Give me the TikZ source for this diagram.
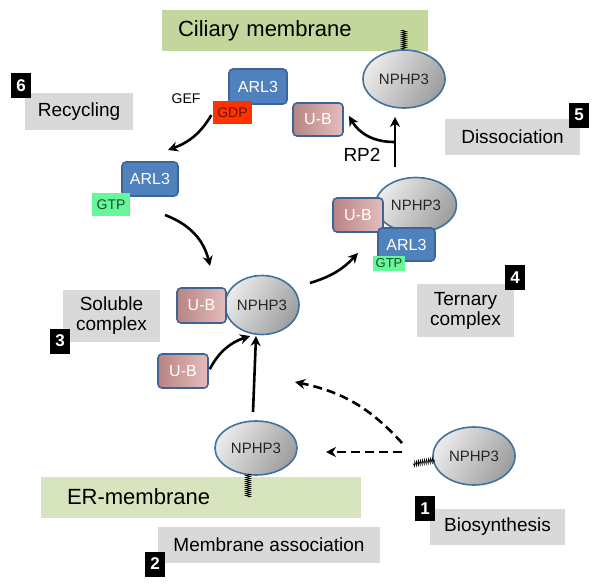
\documentclass[tikz,border=0pt]{standalone}
\usepackage{fontspec}
\setmainfont{Liberation Sans}
\usetikzlibrary{shapes.geometric, arrows.meta, decorations.pathmorphing}
\definecolor{ciliagreen}{HTML}{C3D69B}
\definecolor{ergreen}{HTML}{D7E4BD}
\definecolor{stepgrey}{HTML}{D9D9D9}
\definecolor{arlblue}{HTML}{4F81BD}
\definecolor{boxedge}{HTML}{3C6496}
\definecolor{ubdark}{HTML}{B88482}
\definecolor{ublight}{HTML}{E4BDBC}
\definecolor{gdpred}{HTML}{FF3300}
\definecolor{gdptext}{HTML}{6E1400}
\definecolor{gtpgreen}{HTML}{66F79B}
\definecolor{gtptext}{HTML}{1E4A2C}
\definecolor{nphpedge}{HTML}{41719C}
\newcommand{\fsz}[1]{\fontsize{#1}{#1}\selectfont}

\begin{document}
\begin{tikzpicture}[x=1pt, y=-1pt,
    membrane/.style={fill=#1, minimum height=41pt, inner ysep=0pt, align=left, font=\fsz{22}},
    stepbox/.style={fill=stepgrey, inner sep=0pt, align=center, font=\fontsize{19}{20}\selectfont},
    numbox/.style={fill=black, text=white, inner sep=0pt, minimum width=20pt, minimum height=25pt, font=\fsz{17}\bfseries},
    nphp/.style={ellipse, draw=nphpedge, line width=1.6pt, left color=black!8, right color=black!38, shading angle=60, inner sep=0pt, text=black!85, font=\fsz{15}},
    prot/.style={rectangle, rounded corners=4pt, draw=boxedge, line width=1.6pt, inner sep=0pt, text=white, font=\fsz{16}},
    arl/.style={prot, fill=arlblue, minimum width=57pt, minimum height=34pt},
    ub/.style={prot, left color=ubdark, right color=ublight, minimum width=49pt, minimum height=34pt},
    nucl/.style={fill=#1, inner sep=0pt, minimum width=38pt, minimum height=23pt, font=\fsz{14}},
    anchorlipid/.style={decorate, decoration={zigzag, segment length=2pt, amplitude=2.5pt}, line width=0.6pt},
    arr/.style={line width=2.6pt, -{Stealth[length=10pt, width=10pt]}},
    darr/.style={arr, dash pattern=on 9pt off 5pt},
]
\useasboundingbox (0,0) rectangle (601,586);

% membranes
\node[membrane=ciliagreen, inner xsep=16pt, text width=234pt] (cilia) at (295,30.5) {Ciliary membrane};
\node[membrane=ergreen, inner xsep=26pt, text width=268pt] (er) at (201,497) {ER-membrane};

% step labels
\node[stepbox, minimum width=108pt, minimum height=37pt] (recyc) at (79,111.5) {Recycling};
\node[stepbox, minimum width=135pt, minimum height=36pt] (dissoc) at (512.5,137) {Dissociation};
\node[stepbox, minimum width=97pt, minimum height=53pt] (ternary) at (465.5,310.5) {Ternary\\complex};
\node[stepbox, minimum width=97pt, minimum height=52pt] (soluble) at (111.5,316) {Soluble\\complex};
\node[stepbox, minimum width=222pt, minimum height=36pt] (assoc) at (269,545) {Membrane association};
\node[stepbox, minimum width=135pt, minimum height=36pt] (biosyn) at (497.5,527) {Biosynthesis};
\foreach \n/\x/\y in {1/425/508.5, 2/155/564, 3/60/341, 4/515/277.5, 5/579/115, 6/21/85.5} {
    \node[numbox] (num\n) at (\x,\y) {\n};
}

% 5: dissociation at the cilium
\node[nphp, minimum width=82pt, minimum height=58pt] (nphpCil) at (404,79) {NPHP3};
\coordinate (lipCil) at (404,30);
\draw[anchorlipid] (nphpCil.north) -- (lipCil);
\node[ub, minimum width=50pt, minimum height=33pt] (ubOut) at (318,119.5) {U-B};

% 6: recycling
\node[arl, minimum width=58pt, minimum height=35pt] (arlGDP) at (258,86.5) {ARL3};
\node[nucl=gdpred, text=gdptext, minimum width=39pt] (gdp) at (232.5,112.5) {GDP};
\node[font=\fsz{14}] (gef) at (186,99) {GEF};
\node[arl, minimum width=56pt] (arlGTP) at (150,179) {ARL3};
\node[nucl=gtpgreen, text=gtptext] (gtpFree) at (111,204.5) {GTP};

% 4: ternary complex
\node[nphp, minimum width=81pt, minimum height=55pt] (nphpTer) at (416,205) {NPHP3};
\node[ub, minimum width=50pt] (ubTer) at (358,215) {U-B};
\node[arl, minimum height=33pt] (arlTer) at (406.5,244.5) {ARL3};
\node[nucl=gtpgreen, text=gtptext, minimum width=32pt, minimum height=15pt, font=\fsz{13}] (gtpTer) at (389,263.5) {GTP};

% 3: soluble complex
\node[nphp, minimum width=74pt, minimum height=59pt] (nphpSol) at (262,305) {NPHP3};
\node[ub, minimum height=35pt] (ubSol) at (201.5,305.5) {U-B};
\node[ub, minimum width=50pt] (ubFree) at (183,371) {U-B};

% 2: membrane association
\node[nphp, minimum width=82pt, minimum height=54pt] (nphpER) at (256,448) {NPHP3};
\coordinate (lipERtop) at (248,474);
\coordinate (lipER) at (248,497);
\draw[anchorlipid] (lipERtop) -- (lipER);

% 1: biosynthesis
\node[nphp, minimum width=82pt, minimum height=58pt] (nphpNew) at (474,456) {NPHP3};
\coordinate (lipNew) at (413,464);
\draw[anchorlipid] (nphpNew.west) ++(2,4) -- (lipNew);

% arrows
\coordinate (gefEnd) at (168,150);
\draw[arr, shorten <=3pt] (gdp.west) to[bend left=20] (gefEnd);
\coordinate (solA) at (165,215);
\coordinate (solB) at (210,266);
\draw[arr] (solA) to[bend left=28] (solB);
\coordinate (terA) at (310,283);
\coordinate (terB) at (358,253);
\draw[arr] (terA) to[bend right=15] (terB);
\coordinate (rpBase) at (395,167);
\coordinate (rpTop) at (395,117);
\coordinate (rpFork) at (394,142);
\coordinate (rpEnd) at (349,116);
\draw[arr] (rpBase) -- (rpTop);
\draw[arr] (rpFork) to[bend left=30] (rpEnd);
\node[font=\fsz{19}] (rp2) at (362,154.5) {RP2};
\coordinate (ubJoin) at (250,336);
\draw[arr, shorten <=2pt] (ubFree.east) to[bend left=22] (ubJoin);
\coordinate (upA) at (253,412);
\coordinate (upB) at (256,336);
\draw[arr] (upA) -- (upB);
\coordinate (newA) at (402,443);
\coordinate (newB) at (295,382);
\coordinate (newC) at (402,452);
\coordinate (newD) at (326,452);
\draw[darr] (newA) to[bend right=18] (newB);
\draw[darr] (newC) -- (newD);

\end{tikzpicture}
\end{document}
